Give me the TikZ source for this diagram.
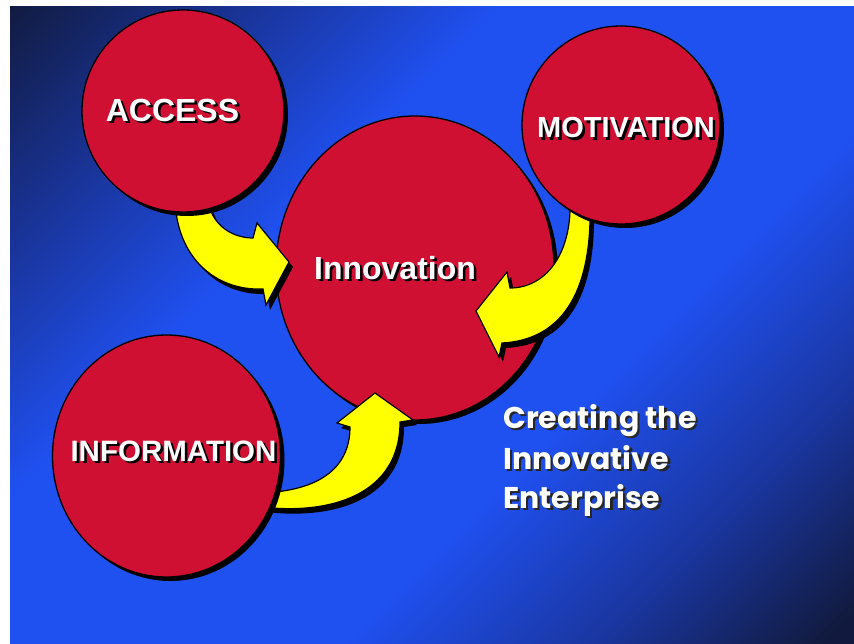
\documentclass[tikz,border=0pt]{standalone}
\usepackage{fontspec}
\setmainfont{Liberation Sans}
\newfontfamily\sloganfont{Poppins}
\usetikzlibrary{shapes.geometric,shadows}

\definecolor{discred}{RGB}{207,16,50}
\definecolor{arrowyellow}{RGB}{255,255,0}
\definecolor{bgdark}{RGB}{17,26,62}
\definecolor{bgmid}{RGB}{26,54,160}
\definecolor{bgbright}{RGB}{31,80,240}

% diagonal sweep: dark corners, bright band along the other diagonal
\pgfdeclareverticalshading{bgsweep}{100bp}{%
  color(0bp)=(bgdark); color(16bp)=(bgdark); color(27bp)=(bgmid);
  color(39bp)=(bgbright); color(62bp)=(bgbright); color(73bp)=(bgmid);
  color(86bp)=(bgdark); color(100bp)=(bgdark)}

% yellow block arrow with its black drop shadow
\newcommand\blockarrowpair[1]{%
  \fill[black, shift={(4,5)}] #1;
  \filldraw[blockarrow] #1;}

% text with a hard shadow offset down and to the right
\newcommand\castshadow[3]{%
  \rlap{\kern#1\raisebox{-#1}[0pt][0pt]{\color{#2}#3}}#3}

\begin{document}
\begin{tikzpicture}[x=1pt, y=-1pt,
  disc/.style={draw=black, line width=1.3pt, fill=discred, inner sep=0pt,
    drop shadow={shadow xshift=4pt, shadow yshift=-4pt, fill=black, opacity=1}},
  blockarrow/.style={draw=black, line width=1.2pt, fill=arrowyellow, line join=miter},
  capword/.style={inner sep=0pt, text=white, font=\bfseries\fontsize{#1}{#1}\selectfont},
  slogan/.style={inner sep=0pt, anchor=base west, text=white,
    font=\sloganfont\bfseries\fontsize{30}{30}\selectfont}]

\useasboundingbox (0,0) rectangle (854,644);
\fill[white] (0,0) rectangle (854,644);
\shade[shading=bgsweep, shading angle=45] (10,7) rectangle (854,644);

% central disc
\node[disc, ellipse, minimum width=278pt, minimum height=304pt] (innov) at (415,268) {};

% arrows feeding the central disc
\blockarrowpair{(207,198) .. controls (212,228) and (235,238) .. (253,238)
  -- (257,223) -- (289,262) -- (266,305) -- (263,289)
  .. controls (215,291) and (176,257) .. (175,198) -- cycle}
\blockarrowpair{(570,200) .. controls (572,255) and (545,288) .. (510,288)
  -- (507,272) -- (476,311) -- (499,357) -- (502,343)
  .. controls (560,340) and (592,295) .. (590,205) -- cycle}
\blockarrowpair{(262,493) .. controls (330,490) and (350,460) .. (350,427)
  -- (337,423) -- (375,393) -- (413,420) -- (400,422)
  .. controls (400,495) and (330,515) .. (262,507) -- cycle}

% outer discs
\node[disc, circle, minimum size=202pt] (access) at (183,111) {};
\node[disc, circle, minimum size=198pt] (motiv) at (621,125) {};
\node[disc, ellipse, minimum width=228pt, minimum height=242pt] (inform) at (166.5,456) {};

% disc captions
\node[capword=32] (accessT) at (172.5,110) {\castshadow{2.5pt}{black}{ACCESS}};
\node[capword=29] (motivT) at (626,128) {\castshadow{2.5pt}{black}{MOTIVATION}};
\node[capword=29.5] (informT) at (173.5,451) {\castshadow{2.5pt}{black}{INFORMATION}};
\node[capword=32] (innovT) at (395,268) {\castshadow{2.5pt}{black}{Innovation}};

% slogan
\node[slogan] (sl1) at (503,428) {\castshadow{2.5pt}{black!85}{Creating the}};
\node[slogan] (sl2) at (503,469) {\castshadow{2.5pt}{black!85}{Innovative}};
\node[slogan] (sl3) at (503,508) {\castshadow{2.5pt}{black!85}{Enterprise}};
\end{tikzpicture}
\end{document}
